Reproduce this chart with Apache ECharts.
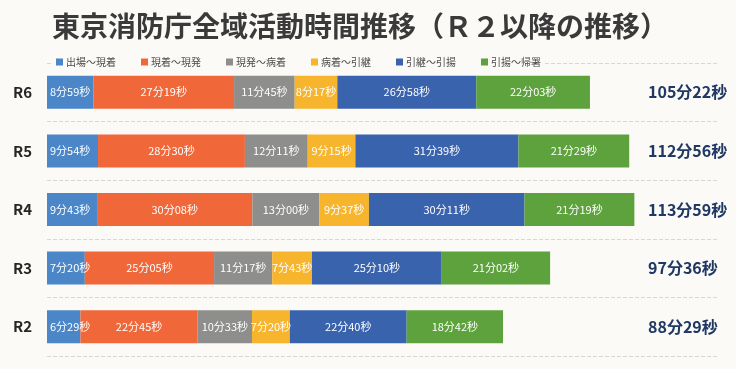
<!DOCTYPE html>
<html>
<head>
<meta charset="utf-8">
<script src="https://cdn.jsdelivr.net/npm/echarts@6/dist/echarts.min.js"></script>
<style>
html,body{margin:0;padding:0;background:#fbfaf6;}
#c{width:736px;height:369px;}
</style>
</head>
<body>
<div id="c"></div>
<script>
var titleText = '東京消防庁全域活動時間推移（Ｒ２以降の推移）';
var categories = ['R6', 'R5', 'R4', 'R3', 'R2'];
var seriesNames = ['出場～現着', '現着～現発', '現発～病着', '病着～引継', '引継～引揚', '引揚～帰署'];
// values as [minutes, seconds]
var s1 = [[8,59],[9,54],[9,43],[7,20],[6,29]];
var s2 = [[27,19],[28,30],[30,8],[25,5],[22,45]];
var s3 = [[11,45],[12,11],[13,0],[11,17],[10,33]];
var s4 = [[8,17],[9,15],[9,37],[7,43],[7,20]];
var s5 = [[26,58],[31,39],[30,11],[25,10],[22,40]];
var s6 = [[22,3],[21,29],[21,19],[21,2],[18,42]];
var totals = [[105,22],[112,56],[113,59],[97,36],[88,29]];
var colors = ['#4a86c8', '#f0683a', '#8e8e8c', '#f7b52e', '#3a63ae', '#5ea23e'];

function pad(n){ return (n < 10 ? '0' : '') + n; }
function fmt(ms){ return ms[0] + '分' + pad(ms[1]) + '秒'; }
function toMin(ms){ return ms[0] + ms[1] / 60; }

var allSeries = [s1, s2, s3, s4, s5, s6];
var series = allSeries.map(function (arr, i) {
  return {
    name: seriesNames[i],
    type: 'bar',
    stack: 'total',
    barWidth: 33,
    itemStyle: { color: colors[i] },
    label: {
      show: true,
      position: i === 0 ? 'insideLeft' : 'inside',
      distance: 3,
      color: '#ffffff',
      fontSize: 11,
      fontFamily: 'Noto Sans CJK JP',
      formatter: function (p) { return fmt(arr[p.dataIndex]); }
    },
    data: arr.map(toMin)
  };
});

var chart = echarts.init(document.getElementById('c'), null, { renderer: 'canvas' });
chart.setOption({
  backgroundColor: '#fbfaf6',
  animation: false,
  title: {
    text: titleText,
    left: 47,
    top: 7,
    textStyle: { fontSize: 28, fontWeight: 'bold', color: '#3a3a3a', fontFamily: 'Noto Sans CJK JP' }
  },
  legend: {
    top: 57,
    left: 52,
    itemWidth: 7,
    itemHeight: 7,
    itemGap: 25,
    icon: 'rect',
    backgroundColor: '#fbfaf6',
    padding: [0, 4],
    textStyle: { fontSize: 10, color: '#4a4a4a', fontFamily: 'Noto Sans CJK JP', padding: [0, 0, 0, -2] },
    data: seriesNames
  },
  grid: { left: 47, right: 19, top: 63, bottom: 13 },
  xAxis: {
    type: 'value',
    min: 0,
    max: 130,
    show: false
  },
  yAxis: [{
    type: 'category',
    data: categories,
    inverse: true,
    axisLine: { show: false },
    axisTick: { show: false },
    axisLabel: { fontSize: 15, fontWeight: 'bold', color: '#262626', margin: 15, fontFamily: 'Noto Sans CJK JP' },
    splitLine: { show: true, lineStyle: { color: '#d8d8d4', type: 'dashed', width: 1 } }
  }, {
    type: 'category',
    data: categories,
    inverse: true,
    position: 'right',
    axisLine: { show: false },
    axisTick: { show: false },
    splitLine: { show: false },
    axisLabel: {
      inside: true,
      align: 'left',
      margin: 69,
      fontSize: 16,
      fontWeight: 'bold',
      color: '#1f3864',
      fontFamily: 'Noto Sans CJK JP',
      formatter: function (v, i) { return fmt(totals[i]); }
    }
  }],
  series: series
});
</script>
</body>
</html>
